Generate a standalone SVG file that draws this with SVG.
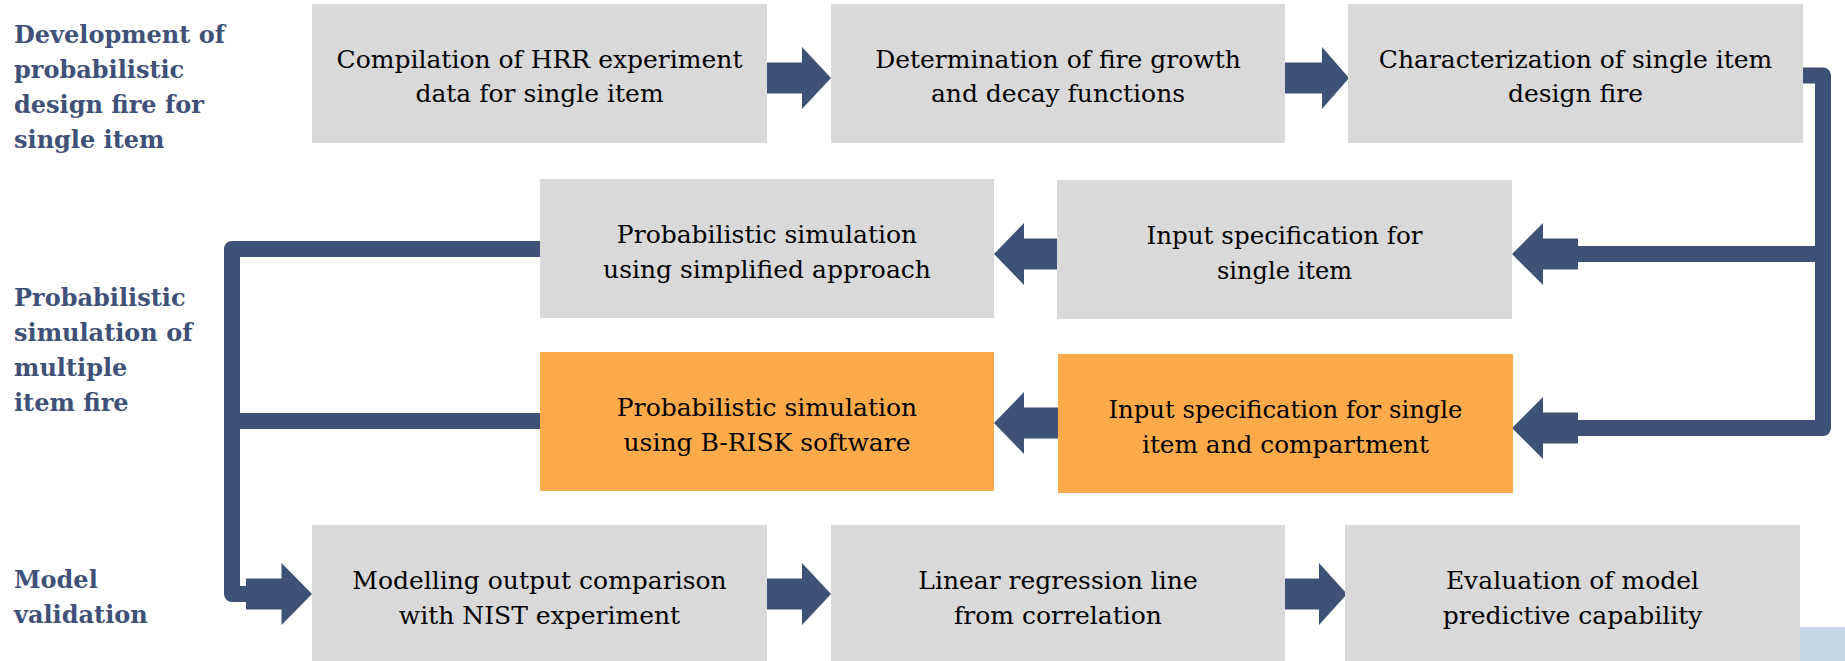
<svg xmlns="http://www.w3.org/2000/svg" width="1845" height="661" viewBox="0 0 1845 661">
<style>
.box{fill:#d9d9d9}
.org{fill:#fdaa4b}
.t{font-family:"DejaVu Serif","Liberation Serif",serif;font-size:25px;fill:#000;text-anchor:middle}
.lab{font-family:"DejaVu Serif","Liberation Serif",serif;font-size:24px;font-weight:bold;fill:#3f5178}
.ln{fill:none;stroke:#3e5176;stroke-width:16;stroke-linejoin:round}
.ar{fill:#3e5176}
</style>
<rect width="1845" height="661" fill="#fff"/>
<g id="labels">
<text class="lab" x="14" y="43">Development of</text>
<text class="lab" x="14" y="78">probabilistic</text>
<text class="lab" x="14" y="113">design fire for</text>
<text class="lab" x="14" y="148">single item</text>
<text class="lab" x="14" y="306">Probabilistic</text>
<text class="lab" x="14" y="341">simulation of</text>
<text class="lab" x="14" y="376">multiple</text>
<text class="lab" x="14" y="411">item fire</text>
<text class="lab" x="14" y="588">Model</text>
<text class="lab" x="14" y="623">validation</text>
</g>
<g id="connectors">
<path class="ln" d="M1800,75.5 H1823 V428 H1574 M1823,254 H1574"/>
<path class="ln" d="M545,249 H232 V594 H250 M545,421 H232"/>
<polygon class="ar" points="765,62.5 802,62.5 802,47 831,78 802,109 802,93.5 765,93.5"/>
<polygon class="ar" points="1283,62.5 1322,62.5 1322,47 1349,78 1322,109 1322,93.5 1283,93.5"/>
<polygon class="ar" points="246,578.5 281.5,578.5 281.5,563 312,594 281.5,625 281.5,609.5 246,609.5"/>
<polygon class="ar" points="765,578.5 802,578.5 802,563 831,594 802,625 802,609.5 765,609.5"/>
<polygon class="ar" points="1283,578.5 1319,578.5 1319,563 1347,594 1319,625 1319,609.5 1283,609.5"/>
<polygon class="ar" points="1059,238.5 1024,238.5 1024,223 994,254 1024,285 1024,269.5 1059,269.5"/>
<polygon class="ar" points="1060,407.5 1024,407.5 1024,392 994,423 1024,454 1024,438.5 1060,438.5"/>
<polygon class="ar" points="1578,238.5 1543,238.5 1543,223 1512,254 1543,285 1543,269.5 1578,269.5"/>
<polygon class="ar" points="1578,412.5 1543,412.5 1543,397 1512,428 1543,459 1543,443.5 1578,443.5"/>
</g>
<g id="n1"><rect class="box" x="312" y="4" width="455" height="139"/>
<text class="t" x="539.5" y="68">Compilation of HRR experiment</text><text class="t" x="539.5" y="102">data for single item</text></g>
<g id="n2"><rect class="box" x="831" y="4" width="454" height="139"/>
<text class="t" x="1058" y="68">Determination of fire growth</text><text class="t" x="1058" y="102">and decay functions</text></g>
<g id="n3"><rect class="box" x="1348" y="4" width="455" height="139"/>
<text class="t" x="1575.5" y="68">Characterization of single item</text><text class="t" x="1575.5" y="102">design fire</text></g>
<g id="n4"><rect class="box" x="540" y="179" width="454" height="139"/>
<text class="t" x="767" y="243">Probabilistic simulation</text><text class="t" x="767" y="277.5">using simplified approach</text></g>
<g id="n5"><rect class="box" x="1057" y="180" width="455" height="139"/>
<text class="t" x="1284.5" y="244" textLength="276" lengthAdjust="spacingAndGlyphs">Input specification for</text><text class="t" x="1284.5" y="278.5" textLength="135" lengthAdjust="spacingAndGlyphs">single item</text></g>
<g id="n6"><rect class="org" x="540" y="352" width="454" height="139"/>
<text class="t" x="767" y="416">Probabilistic simulation</text><text class="t" x="767" y="450.5">using B-RISK software</text></g>
<g id="n7"><rect class="org" x="1058" y="354" width="455" height="139"/>
<text class="t" x="1285.5" y="418" textLength="354" lengthAdjust="spacingAndGlyphs">Input specification for single</text><text class="t" x="1285.5" y="452.5" textLength="287" lengthAdjust="spacingAndGlyphs">item and compartment</text></g>
<g id="n8"><rect class="box" x="312" y="525" width="455" height="140"/>
<text class="t" x="539.5" y="589">Modelling output comparison</text><text class="t" x="539.5" y="623.5">with NIST experiment</text></g>
<g id="n9"><rect class="box" x="831" y="525" width="454" height="140"/>
<text class="t" x="1058" y="589">Linear regression line</text><text class="t" x="1058" y="623.5">from correlation</text></g>
<g id="n10"><rect class="box" x="1345" y="525" width="455" height="140"/>
<text class="t" x="1572.5" y="589">Evaluation of model</text><text class="t" x="1572.5" y="623.5">predictive capability</text></g>
<rect x="1800" y="627" width="45" height="34" fill="#c6d4e8"/>
</svg>
